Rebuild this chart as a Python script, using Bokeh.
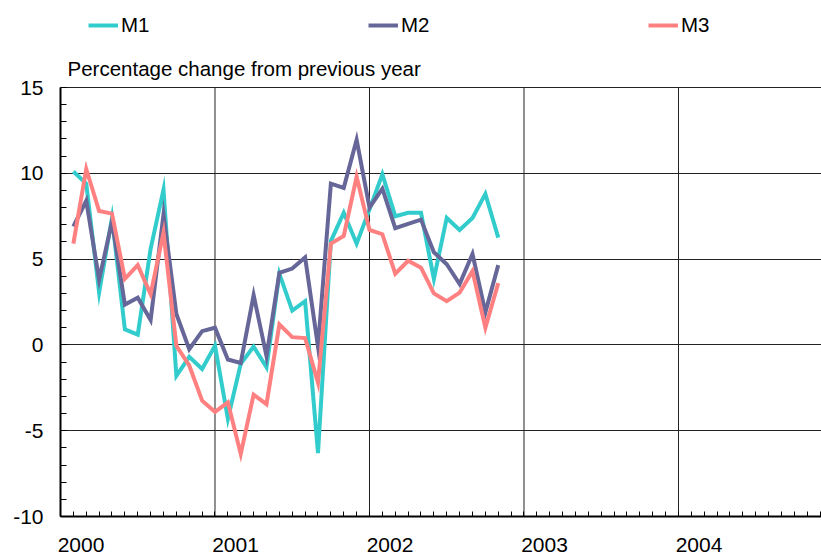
from bokeh.plotting import figure
from bokeh.models import (FixedTicker, Legend, LegendItem, CustomJSTickFormatter, Label)
from bokeh.embed import file_html
from bokeh.resources import INLINE

# ---- data (monthly, year-on-year % change) ----
months = [f"{2000 + (i // 12)}-{(i % 12) + 1:02d}" for i in range(34)]
m1 = [10.1, 9.4, 3.05, 7.4, 0.9, 0.6, 5.6, 9.05, -1.8, -0.7, -1.4, -0.05,
      -4.3, -1.1, -0.1, -1.3, 4.15, 2.0, 2.55, -6.3, 6.05, 7.7, 5.9, 7.9,
      9.95, 7.5, 7.7, 7.7, 3.85, 7.4, 6.7, 7.4, 8.8, 6.25]
m2 = [6.9, 8.4, 3.8, 7.2, 2.35, 2.75, 1.45, 7.6, 1.8, -0.25, 0.8, 1.0,
      -0.85, -1.05, 2.9, -0.65, 4.2, 4.45, 5.1, -0.1, 9.4, 9.15, 11.95, 8.0,
      9.1, 6.8, 7.05, 7.3, 5.4, 4.7, 3.55, 5.3, 1.9, 4.65]
m3 = [5.9, 10.25, 7.8, 7.65, 3.85, 4.65, 2.95, 6.55, -0.05, -1.2, -3.25, -3.9,
      -3.35, -6.35, -2.9, -3.45, 1.2, 0.45, 0.4, -2.2, 5.9, 6.35, 9.8, 6.7,
      6.45, 4.15, 4.9, 4.5, 3.0, 2.55, 3.05, 4.3, 1.0, 3.6]
series_names = ["M1", "M2", "M3"]
colors = ["#33CCCC", "#666699", "#FF8080"]
year_labels = [2000, 2001, 2002, 2003, 2004]
y_ticks = [-10, -5, 0, 5, 10, 15]
title_text = "Percentage change from previous year"

# x position: end of each month as decimal year
x = [int(m[:4]) + int(m[5:]) / 12 for m in months]

FONT = "Liberation Sans"
Y_MIN, Y_MAX = y_ticks[0], y_ticks[-1]

# frame spans the full height above the x axis; the value axis is bounded to -10..15
p = figure(width=821, height=560, x_range=(2000, 2004.9256), y_range=(Y_MIN, 20.07),
           output_backend="svg", toolbar_location=None, title_location=None,
           min_border_left=60, min_border_right=0, min_border_top=0,
           min_border_bottom=44)
p.outline_line_color = None
p.background_fill_color = "white"
p.border_fill_color = "white"

# horizontal grid
p.ygrid.ticker = FixedTicker(ticks=[t for t in y_ticks if t > Y_MIN])
p.ygrid.grid_line_color = "#222222"
p.ygrid.grid_line_width = 1
# vertical year grid lines, bounded to the value range
p.xgrid.visible = False
grid_years = year_labels[1:]
p.segment(x0=grid_years, y0=[Y_MIN] * len(grid_years), x1=grid_years,
          y1=[Y_MAX] * len(grid_years), line_color="#222222", line_width=1,
          level="underlay")

# x axis: labels offset to right of year gridlines, monthly minor ticks
xa = p.xaxis[0]
xa.ticker = FixedTicker(ticks=[yv + 0.133 for yv in year_labels],
                        minor_ticks=[2000 + k / 12 for k in range(1, 60)])
xa.formatter = CustomJSTickFormatter(code="return Math.floor(tick).toString()")
xa.major_tick_in = 0
xa.major_tick_out = 0
xa.minor_tick_in = 5
xa.minor_tick_out = 0
xa.minor_tick_line_color = "black"
xa.axis_line_width = 2
xa.axis_line_color = "black"
xa.major_label_standoff = 21
xa.major_label_text_font = FONT
xa.major_label_text_font_size = "21px"
xa.major_label_text_color = "black"

ya = p.yaxis[0]
ya.bounds = (Y_MIN, Y_MAX)
ya.ticker = FixedTicker(ticks=y_ticks, minor_ticks=list(range(Y_MIN, Y_MAX + 1)))
ya.major_label_overrides = {t: str(t) for t in y_ticks}
ya.major_tick_in = 6
ya.major_tick_out = 0
ya.minor_tick_in = 6
ya.minor_tick_out = 0
ya.major_tick_line_color = "black"
ya.minor_tick_line_color = "black"
ya.axis_line_width = 2
ya.axis_line_color = "black"
ya.major_label_standoff = 17
ya.major_label_text_font = FONT
ya.major_label_text_font_size = "21px"
ya.major_label_text_color = "black"

renderers = []
for name, vals, c in zip(series_names, [m1, m2, m3], colors):
    r = p.line(x, vals, line_color=c, line_width=4, line_join="miter")
    renderers.append(r)

# chart title (unit note) just above the plotting area
p.add_layout(Label(x=7, y=448, x_units="screen", y_units="screen", text=title_text,
                   text_font=FONT, text_font_size="20.5px", text_color="black",
                   text_baseline="alphabetic", text_align="left"))

legend = Legend(items=[LegendItem(label=n, renderers=[r]) for n, r in zip(series_names, renderers)],
                orientation="horizontal", location=(28, 479), padding=0, margin=0,
                spacing=135, glyph_width=30, glyph_height=20, label_standoff=3,
                label_width=112, label_text_font=FONT, label_text_font_size="20.5px",
                label_text_color="black", border_line_color=None,
                background_fill_alpha=0)
p.add_layout(legend)

open("out.html", "w").write(file_html(p, INLINE))
